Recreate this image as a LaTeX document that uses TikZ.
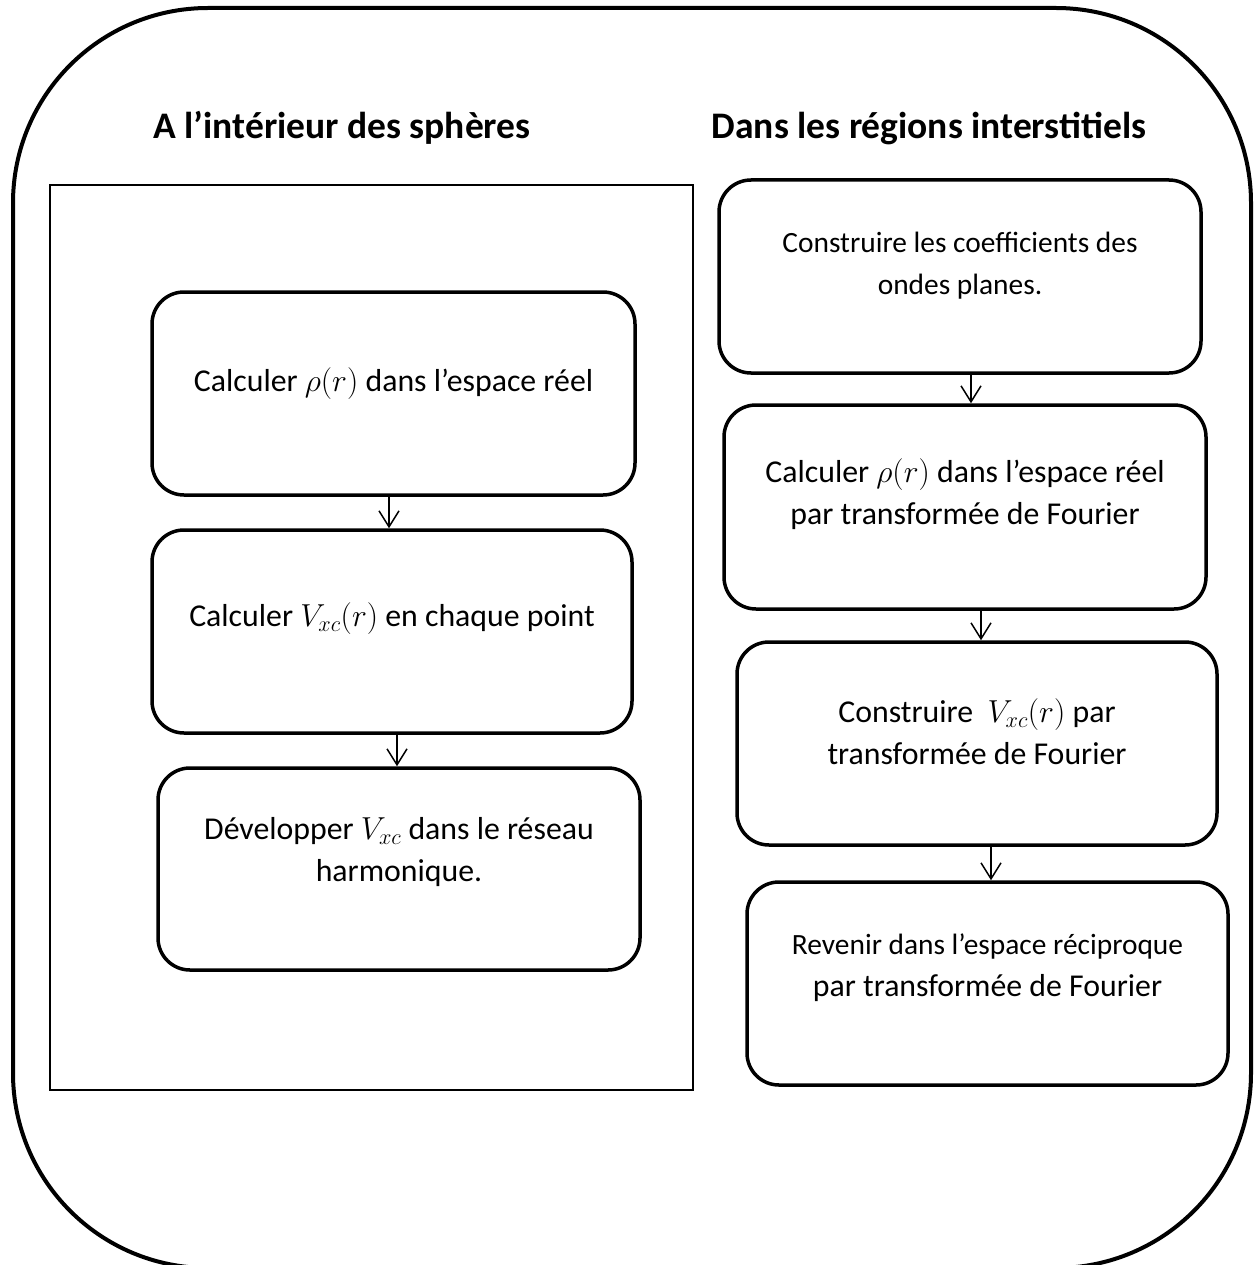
\RequirePackage{fix-cm}
\documentclass[tikz,border=0pt]{standalone}
\usepackage{fontspec}
\setmainfont{Carlito}
\usetikzlibrary{arrows.meta}
\newcommand{\smalltxt}{\fontsize{29.4}{42}\selectfont}
\tikzset{
  stepbox/.style={draw, line width=3.5pt, rounded corners=32pt, inner sep=0pt},
  steptext/.style={align=center, inner sep=0pt, font=\fontsize{31.8}{42}\selectfont},
  titletext/.style={inner sep=0pt, font=\fontsize{37.5}{42}\selectfont\bfseries},
  arr/.style={line width=1.5pt, -{Straight Barb[length=16pt,width=20pt,line width=1.5pt]}}
}
\begin{document}
\begin{tikzpicture}[x=1pt,y=-1pt]
\useasboundingbox (0,0) rectangle (1253,1265);
\clip (0,0) rectangle (1253,1265);
\fill[white] (0,0) rectangle (1253,1265);
% outer frame
\draw[line width=4pt, rounded corners=195pt] (13,8) rectangle (1251,1268);
% titles
\node[titletext] (T1) at (342,128) {A l’intérieur des sphères};
\node[titletext] (T2) at (929,128) {Dans les régions interstitiels};
% left frame
\draw[line width=2pt] (50,185) rectangle (693,1090);
% left boxes
\node[stepbox, minimum width=483pt, minimum height=203pt] (L1) at (393.5,393.5) {};
\node[stepbox, minimum width=480pt, minimum height=203pt] (L2) at (392,631.5) {};
\node[stepbox, minimum width=482pt, minimum height=202pt] (L3) at (399,869) {};
% right boxes
\node[stepbox, minimum width=482pt, minimum height=193pt] (R1) at (960,276.5) {};
\node[stepbox, minimum width=482pt, minimum height=204pt] (R2) at (965,507) {};
\node[stepbox, minimum width=480pt, minimum height=203pt] (R3) at (977,743.5) {};
\node[stepbox, minimum width=481pt, minimum height=203pt] (R4) at (987.5,983.5) {};
% texts
\node[steptext] (tL1) at ([yshift=10pt]L1.center) {Calculer $\rho(r)$ dans l’espace réel};
\node[steptext] (tL2) at ([yshift=13pt]L2.center) {Calculer $V_{xc}(r)$ en chaque point};
\node[steptext] (tL3) at ([yshift=17pt]L3.center) {Développer $V_{xc}$ dans le réseau\\harmonique.};
\node[steptext] (tR1) at ([yshift=11pt]R1.center) {\smalltxt Construire les coefficients des\\\smalltxt ondes planes.};
\node[steptext] (tR2) at ([yshift=13pt]R2.center) {Calculer $\rho(r)$ dans l’espace réel\\par transformée de Fourier};
\node[steptext] (tR3) at ([yshift=12pt]R3.center) {Construire\ \ $V_{xc}(r)$ par\\transformée de Fourier};
\node[steptext] (tR4) at ([yshift=16pt]R4.center) {{\smalltxt Revenir dans l’espace réciproque}\\par transformée de Fourier};
% arrow x positions
\coordinate (a1) at (389,0);
\coordinate (a2) at (397,0);
\coordinate (b1) at (971,0);
\coordinate (b2) at (981,0);
\coordinate (b3) at (991,0);
\draw[arr] (L1.south -| a1) -- (L2.north -| a1);
\draw[arr] (L2.south -| a2) -- (L3.north -| a2);
\draw[arr] (R1.south -| b1) -- (R2.north -| b1);
\draw[arr] (R2.south -| b2) -- (R3.north -| b2);
\draw[arr] (R3.south -| b3) -- (R4.north -| b3);
\end{tikzpicture}
\end{document}
